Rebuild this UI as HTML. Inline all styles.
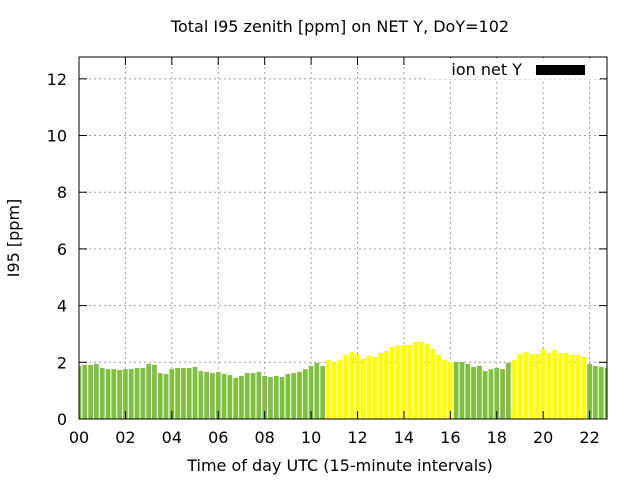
<!DOCTYPE html>
<html><head><meta charset="utf-8"><style>
body{margin:0;background:#fff}
svg text{font-family:"DejaVu Sans","Liberation Sans",sans-serif;fill:#000}
</style></head><body>
<svg id="chart" width="640" height="480" xmlns="http://www.w3.org/2000/svg">
<text x="340" y="32" font-size="16" text-anchor="middle">Total I95 zenith [ppm] on NET Y, DoY=102</text>
<text x="340" y="471" font-size="16" text-anchor="middle">Time of day UTC (15-minute intervals)</text>
<text transform="translate(19,238) rotate(-90)" font-size="16" text-anchor="middle">I95 [ppm]</text>
<g id="grid"></g>
<g id="bars"></g>
<g id="axes"></g>
</svg>
<script>
const values = [1.87,1.91,1.91,1.94,1.80,1.76,1.76,1.73,1.76,1.76,1.80,1.80,1.94,1.91,1.62,1.59,1.76,1.80,1.80,1.80,1.84,1.69,1.66,1.62,1.66,1.59,1.55,1.45,1.52,1.62,1.62,1.66,1.52,1.48,1.52,1.48,1.59,1.62,1.66,1.76,1.87,1.98,1.87,2.08,2.01,2.08,2.26,2.36,2.29,2.12,2.22,2.19,2.33,2.40,2.54,2.58,2.61,2.61,2.72,2.72,2.65,2.47,2.26,2.08,2.01,2.01,2.01,1.94,1.84,1.87,1.69,1.76,1.80,1.76,1.98,2.08,2.29,2.36,2.29,2.29,2.47,2.33,2.44,2.33,2.33,2.26,2.26,2.19,1.94,1.87,1.84,1.80];
const daytime = [0,0,0,0,0,0,0,0,0,0,0,0,0,0,0,0,0,0,0,0,0,0,0,0,0,0,0,0,0,0,0,0,0,0,0,0,0,0,0,0,0,0,0,1,1,1,1,1,1,1,1,1,1,1,1,1,1,1,1,1,1,1,1,1,1,0,0,0,0,0,0,0,0,0,0,1,1,1,1,1,1,1,1,1,1,1,1,1,0,0,0,0];
const yTicks = [0,2,4,6,8,10,12];
const xTickLabels = ["00","02","04","06","08","10","12","14","16","18","20","22"];
const L=79,R=607,T=57,B=419,YMAX=12.77,XMAX=91;
const ns="http://www.w3.org/2000/svg";
const xs=i=>L+i*(R-L)/XMAX;
const ys=v=>B-v*(B-T)/YMAX;
function mk(tag,attrs,parent){const e=document.createElementNS(ns,tag);for(const k in attrs)e.setAttribute(k,attrs[k]);parent.appendChild(e);return e;}
const grid=document.getElementById('grid'),bars=document.getElementById('bars'),axes=document.getElementById('axes');
const clip=mk('clipPath',{id:'pc'},document.getElementById('chart'));
mk('rect',{x:L,y:T,width:R-L,height:B-T},clip);
bars.setAttribute('clip-path','url(#pc)');
yTicks.forEach(v=>{
  const y=ys(v);
  if(v>0){const g=mk('line',{x1:L,x2:R,y1:y,y2:y,stroke:'#a0a0a0','stroke-dasharray':'2,3'},grid);
  
  }
  mk('line',{x1:L,x2:L+8,y1:y,y2:y,stroke:'#000'},axes);
  mk('line',{x1:R,x2:R-8,y1:y,y2:y,stroke:'#000'},axes);
  const t=mk('text',{x:L-12,y:y+6,'font-size':16,'text-anchor':'end'},axes);
  t.textContent=v;
  
  
});
xTickLabels.forEach((lab,k)=>{
  const x=xs(k*8);
  if(k>0){const g=mk('line',{x1:x,x2:x,y1:T,y2:B,stroke:'#a0a0a0','stroke-dasharray':'2,3'},grid);
  
  }
  mk('line',{x1:x,x2:x,y1:B,y2:B-8,stroke:'#000'},axes);
  mk('line',{x1:x,x2:x,y1:T,y2:T+8,stroke:'#000'},axes);
  const t=mk('text',{x:x,y:B+24,'font-size':16,'text-anchor':'middle'},axes);
  t.textContent=lab;
  
  
});
const bw=(R-L)/XMAX*0.82;
values.forEach((v,i)=>{
  const r=mk('rect',{x:xs(i)-bw/2,y:ys(v),width:bw,height:B-ys(v),fill:daytime[i]?'#ffff00':'#80c040'},bars);
  
  
});
const lb=mk('rect',{x:428,y:58,width:172,height:21,fill:'#fff'},axes);


const lt=mk('text',{x:522,y:75,'font-size':16,'text-anchor':'end'},axes);
lt.textContent='ion net Y';


const ls=mk('rect',{x:536,y:65,width:49,height:10,fill:'#000'},axes);


const fr=mk('rect',{x:L,y:T,width:R-L,height:B-T,fill:'none',stroke:'#000','stroke-width':1},axes);


</script>
</body></html>
